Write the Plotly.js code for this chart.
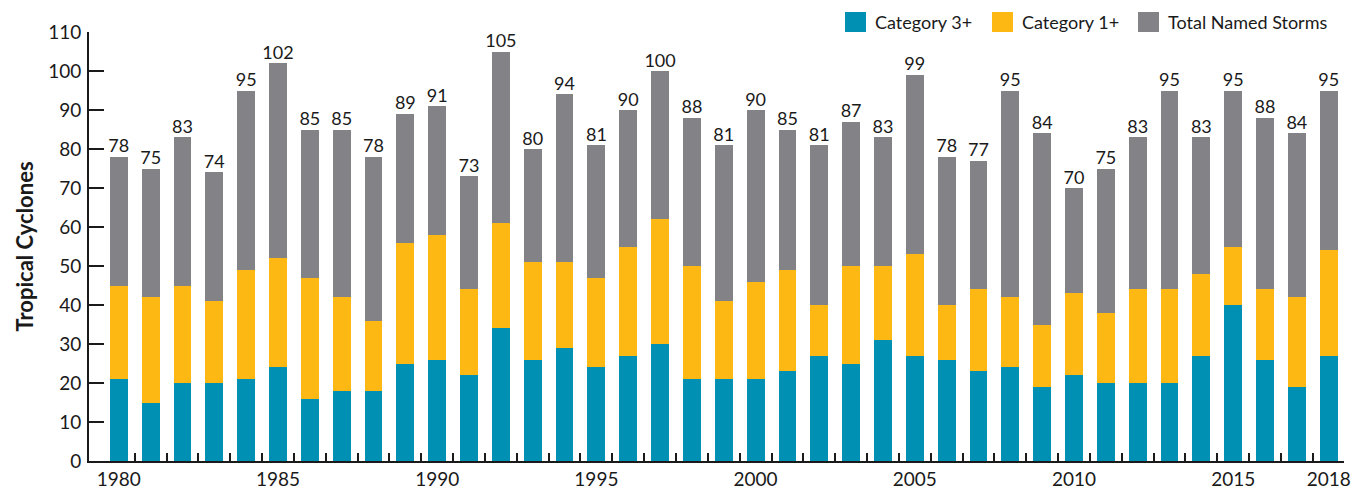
<!DOCTYPE html>
<html>
<head>
<meta charset="utf-8">
<script src="https://cdn.plot.ly/plotly-3.0.1.min.js"></script>
<style>html,body{margin:0;padding:0;background:#fff;}#chart{width:1362px;height:491px;}</style>
</head>
<body>
<div id="chart"></div>
<script>
const years = [1980,1981,1982,1983,1984,1985,1986,1987,1988,1989,1990,1991,1992,1993,1994,1995,1996,1997,1998,1999,2000,2001,2002,2003,2004,2005,2006,2007,2008,2009,2010,2011,2012,2013,2014,2015,2016,2017,2018];
const category3 = [21,15,20,20,21,24,16,18,18,25,26,22,34,26,29,24,27,30,21,21,21,23,27,25,31,27,26,23,24,19,22,20,20,20,27,40,26,19,27];
const category1 = [45,42,45,41,49,52,47,42,36,56,58,44,61,51,51,47,55,62,50,41,46,49,40,50,50,53,40,44,42,35,43,38,44,44,48,55,44,42,54];
const totalStorms = [78,75,83,74,95,102,85,85,78,89,91,73,105,80,94,81,90,100,88,81,90,85,81,87,83,99,78,77,95,84,70,75,83,95,83,95,88,84,95];
const seriesNames = ["Category 3+","Category 1+","Total Named Storms"];
const xTickLabels = [1980,1985,1990,1995,2000,2005,2010,2015,2018];

const colors = ["#0090B4","#FDB813","#838387"];
const FONT = "Lato, 'Open Sans', sans-serif";

const seg1 = category3;
const seg2 = category1.map((v,i)=>v-category3[i]);
const seg3 = totalStorms.map((v,i)=>v-category1[i]);

const traces = [
  {type:'bar', x:years, y:seg1, name:seriesNames[0], marker:{color:colors[0]}, hoverinfo:'skip'},
  {type:'bar', x:years, y:seg2, name:seriesNames[1], marker:{color:colors[1]}, hoverinfo:'skip'},
  {type:'bar', x:years, y:seg3, name:seriesNames[2], marker:{color:colors[2]}, hoverinfo:'skip'},
  {type:'scatter', mode:'text', x:years, y:totalStorms, text:totalStorms.map(String), textposition:'top center',
   textfont:{family:FONT, size:18, color:'#1a1a1a'}, hoverinfo:'skip', cliponaxis:false}
];

const halfTicks = years.map(y=>y+0.5);

// custom legend
const legendX = [845, 992, 1138];
const shapes = [];
const annotations = [];
const plotL = 89, plotR = 1344, plotT = 32, plotB = 461;
const px = x => (x-plotL)/(plotR-plotL);
const py = y => (plotB-y)/(plotB-plotT);
seriesNames.forEach((n,i)=>{
  shapes.push({type:'rect', xref:'paper', yref:'paper', x0:px(legendX[i]), x1:px(legendX[i]+21), y0:py(32), y1:py(12), fillcolor:colors[i], line:{width:0}});
  annotations.push({xref:'paper', yref:'paper', x:px(legendX[i]+28), y:py(22), xanchor:'left', yanchor:'middle', text:n, showarrow:false, font:{family:FONT, size:18, color:'#1a1a1a'}});
});

const layout = {
  width:1362, height:491,
  margin:{l:plotL, r:1362-plotR, t:plotT, b:491-plotB},
  paper_bgcolor:'#fff', plot_bgcolor:'#fff',
  barmode:'stack', bargap:0.44,
  showlegend:false,
  font:{family:FONT, color:'#1a1a1a'},
  xaxis:{
    range:[1979.064, 2018.48], tickmode:'array', tickvals:xTickLabels, ticktext:xTickLabels.map(String),
    ticks:'', tickfont:{family:FONT, size:19, color:'#1a1a1a'}, showgrid:false, zeroline:false,
    showline:true, linecolor:'#1a1a1a', linewidth:2,
    minor:{tickmode:'array', tickvals:halfTicks, ticks:'inside', ticklen:8, tickwidth:2, tickcolor:'#1a1a1a', showgrid:false}
  },
  yaxis:{
    range:[0,110], tickmode:'array', tickvals:[0,10,20,30,40,50,60,70,80,90,100,110],
    ticks:'inside', ticklen:15, tickwidth:1.5, tickcolor:'#1a1a1a',
    tickfont:{family:FONT, size:19, color:'#1a1a1a'}, showgrid:false, zeroline:false,
    showline:true, linecolor:'#1a1a1a', linewidth:2, ticklabelstandoff:2,
    title:{text:'<b>Tropical Cyclones</b>', font:{family:FONT, size:22, color:'#1a1a1a'}, standoff:8}
  },
  shapes:shapes, annotations:annotations
};

Plotly.newPlot('chart', traces, layout, {displayModeBar:false, staticPlot:true});
</script>
</body>
</html>
